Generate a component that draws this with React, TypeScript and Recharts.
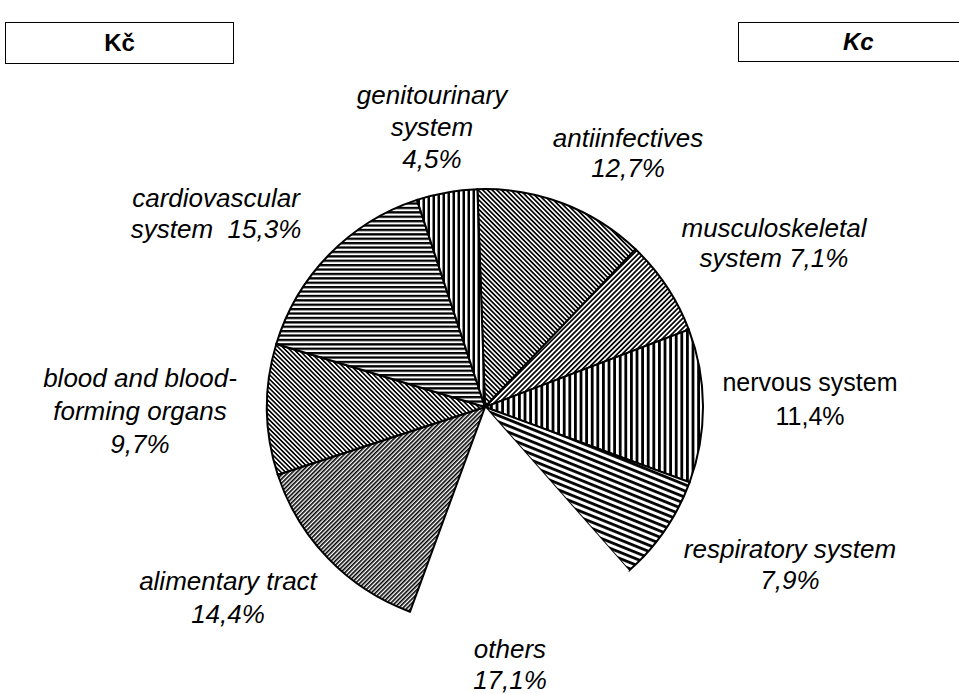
import { PieChart, Pie, Cell } from "recharts"

// shares of the chart, clockwise from the top
const categories = [
  "antiinfectives",
  "musculoskeletal system",
  "nervous system",
  "respiratory system",
  "others",
  "alimentary tract",
  "blood and blood-forming organs",
  "cardiovascular system",
  "genitourinary system",
]
const shares = [12.7, 7.1, 11.4, 7.9, 17.1, 14.4, 9.7, 15.3, 4.5]

// label text lines per slice
const labelText = [
  ["antiinfectives", "12,7%"],
  ["musculoskeletal", "system 7,1%"],
  ["nervous system", "11,4%"],
  ["respiratory system", "7,9%"],
  ["others", "17,1%"],
  ["alimentary tract", "14,4%"],
  ["blood and blood-", "forming organs", "9,7%"],
  ["cardiovascular", "system  15,3%"],
  ["genitourinary", "system", "4,5%"],
]

const data = categories.map((name, i) => ({ name, value: shares[i] }))

// where each label sits (center x, first baseline, line step)
const labelPos = [
  { x: 628, y: 147, step: 30, italic: true },
  { x: 774, y: 237, step: 30, italic: true },
  { x: 810, y: 391, step: 34, italic: false },
  { x: 790, y: 558, step: 31, italic: true },
  { x: 510, y: 658, step: 31, italic: true },
  { x: 228, y: 590, step: 33, italic: true },
  { x: 140, y: 387, step: 33, italic: true },
  { x: 216, y: 207, step: 31, italic: true },
  { x: 432, y: 104, step: 32, italic: true },
]

// hatch pattern per slice (angle in degrees, period, black line width)
const hatches = [
  { id: "h0", angle: 45, gap: 3.3, w: 1.7 },
  { id: "h1", angle: -45, gap: 3.5, w: 1.7 },
  { id: "h2", angle: 90, gap: 5.6, w: 2.8 },
  { id: "h3", angle: 22, gap: 5.8, w: 2.8 },
  { id: "h4", angle: 0, gap: 0, w: 0 },
  { id: "h5", angle: -45, gap: 3, w: 1.6 },
  { id: "h6", angle: 45, gap: 3.2, w: 1.6 },
  { id: "h7", angle: 0, gap: 4.4, w: 2.3 },
  { id: "h8", angle: 90, gap: 5, w: 2.5 },
]

const FONT = "'Liberation Sans', Arial, sans-serif"

function Patterns() {
  return (
    <svg width={0} height={0} style={{ position: "absolute" }}>
      <defs>
        {hatches.map((h) =>
          h.gap === 0 ? null : (
            <pattern
              key={h.id}
              id={h.id}
              width={h.gap}
              height={h.gap}
              patternUnits="userSpaceOnUse"
              patternTransform={`rotate(${h.angle})`}
            >
              <rect width={h.gap} height={h.gap} fill="#fff" />
              <rect y={0} width={h.gap} height={h.w} fill="#000" />
            </pattern>
          )
        )}
      </defs>
    </svg>
  )
}

const renderLabel = (props: any) => {
  const i = props.index
  const p = labelPos[i]
  return (
    <text
      key={`lbl-${i}`}
      textAnchor="middle"
      fontFamily={FONT}
      fontSize={p.italic ? 26 : 25}
      fontStyle={p.italic ? "italic" : "normal"}
      fill="#000"
      style={{ whiteSpace: "pre" }}
    >
      {labelText[i].map((line, j) => (
        <tspan key={j} x={p.x} y={p.y + j * p.step}>
          {line}
        </tspan>
      ))}
    </text>
  )
}

export default function App() {
  return (
    <div style={{ position: "absolute", left: 0, top: 0, width: 959, height: 694, background: "#fff" }}>
      <Patterns />
      <PieChart width={959} height={694}>
        <Pie
          data={data}
          dataKey="value"
          nameKey="name"
          cx={480}
          cy={402}
          outerRadius={218}
          startAngle={92}
          endAngle={-268}
          stroke="#000"
          strokeWidth={2}
          label={renderLabel}
          labelLine={false}
          isAnimationActive={false}
        >
          {data.map((d, i) =>
            d.name === "others" ? (
              <Cell key={i} fill="#fff" stroke="none" />
            ) : (
              <Cell key={i} fill={`url(#${hatches[i].id})`} />
            )
          )}
        </Pie>
      </PieChart>
      <div
        style={{
          position: "absolute",
          left: 5,
          top: 22,
          width: 227,
          height: 40,
          border: "1.5px solid #000",
          display: "flex",
          alignItems: "center",
          justifyContent: "center",
          fontFamily: FONT,
          fontWeight: "bold",
          fontSize: 24,
        }}
      >
        Kč
      </div>
      <div
        style={{
          position: "absolute",
          left: 738,
          top: 22,
          width: 240,
          height: 40,
          border: "1.5px solid #000",
          display: "flex",
          alignItems: "center",
          paddingLeft: 104,
          boxSizing: "border-box",
          fontFamily: FONT,
          fontWeight: "bold",
          fontStyle: "italic",
          fontSize: 24,
        }}
      >
        Kc
      </div>
    </div>
  )
}
